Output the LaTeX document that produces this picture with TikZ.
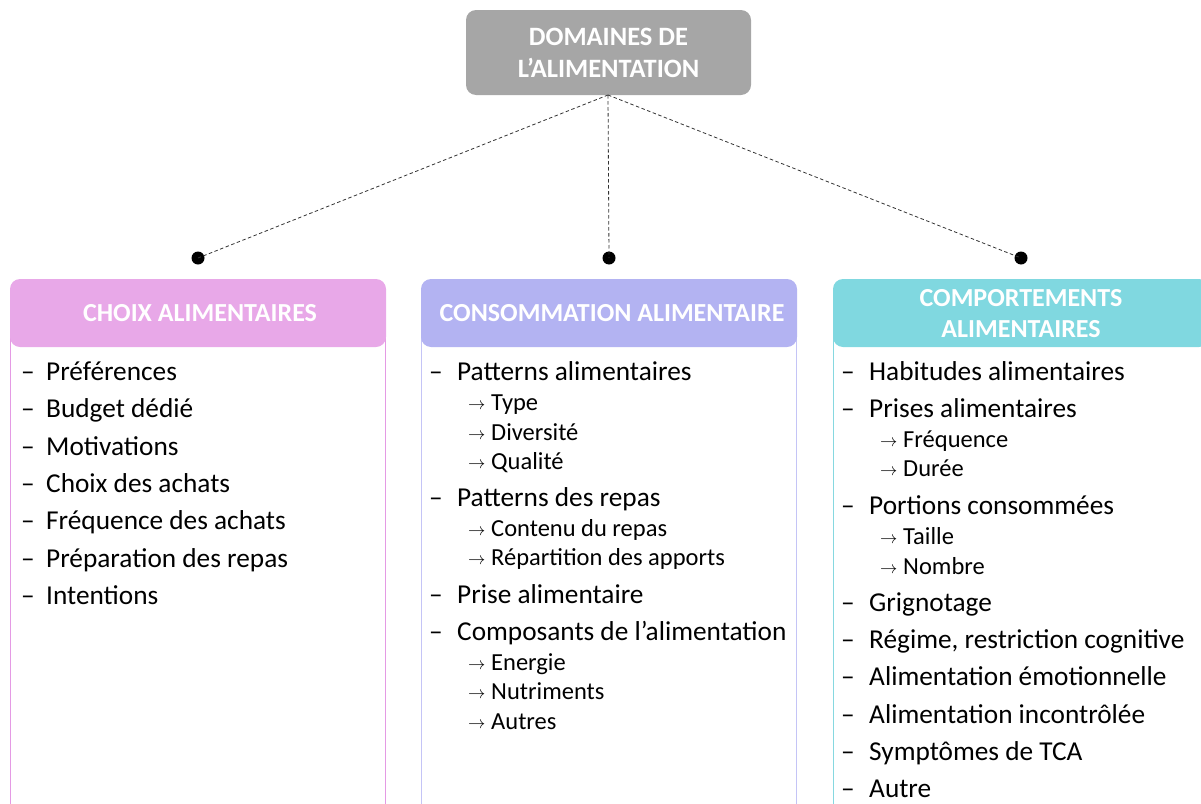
\documentclass[tikz,border=0pt]{standalone}
\usepackage{fontspec}
\setmainfont{Carlito}
\begin{document}
\begin{tikzpicture}[x=1pt,y=-1pt,
  hdrtxt/.style={text=white,font=\fontsize{26}{31}\selectfont\bfseries,align=center},
  toptxtst/.style={text=white,font=\fontsize{26.5}{32}\selectfont\bfseries,align=center},
  mainbox/.style={fill=topgray,rounded corners=10pt,minimum width=285pt,minimum height=85pt,inner sep=0pt},
  hdrbox/.style={rounded corners=10pt,minimum width=376pt,minimum height=68pt,inner sep=0pt},
  itm/.style={anchor=base west,inner sep=0pt,font=\fontsize{27.3}{30}\selectfont,text=black},
  sub/.style={anchor=base west,inner sep=0pt,font=\fontsize{24.5}{28}\selectfont,text=black},
  arr/.style={anchor=base west,inner sep=0pt,font=\fontsize{16}{16}\selectfont},
  conn/.style={dash pattern=on 3.5pt off 2.5pt,line width=0.8pt,black!80},
  dot/.style={circle,fill=black,inner sep=0pt,minimum size=13pt},
  colline/.style={line width=1pt}]
\definecolor{topgray}{HTML}{A6A6A6}
\definecolor{pinkh}{HTML}{E8A8E8}
\definecolor{lavh}{HTML}{B3B3F2}
\definecolor{cyanh}{HTML}{80D8E0}
\definecolor{pinkl}{HTML}{E49AE4}
\definecolor{lavl}{HTML}{C4C4F6}
\definecolor{cyanl}{HTML}{86D8E0}
\useasboundingbox (0,0) rectangle (1201,803);
\clip (0,0) rectangle (1201,803);

% top node
\node[mainbox] (top) at (608.5,52.5) {};
\node[toptxtst] (toptxt) at (608.5,53) {DOMAINES DE\\L’ALIMENTATION};

% dots
\node[dot] (d1) at (198,258) {};
\node[dot] (d2) at (609,258) {};
\node[dot] (d3) at (1021,258) {};
\coordinate (src) at (608,95);
\draw[conn] (src) -- (d1.center);
\draw[conn] (src) -- (d2.center);
\draw[conn] (src) -- (d3.center);

% column bodies
\draw[colline,pinkl] (10,330) -- (10,810);
\draw[colline,pinkl] (385.5,330) -- (385.5,810);
\draw[colline,lavl] (421,330) -- (421,810);
\draw[colline,lavl] (796.5,330) -- (796.5,810);
\draw[colline,cyanl] (833,330) -- (833,810);

% headers
\node[hdrbox,fill=pinkh] (h1) at (198,313) {};
\node[hdrtxt] (h1t) at (200,313) {CHOIX ALIMENTAIRES};
\node[hdrbox,fill=lavh] (h2) at (609,313) {};
\node[hdrtxt] (h2t) at (612,313) {CONSOMMATION ALIMENTAIRE};
\node[hdrbox,fill=cyanh] (h3) at (1021,313) {};
\node[hdrtxt] (h3t) at (1021,314) {COMPORTEMENTS\\ALIMENTAIRES};

% column 1
\foreach \y/\t [count=\i] in {371/{Préférences},408/{Budget dédié},446/{Motivations},483/{Choix des achats},520/{Fréquence des achats},558/{Préparation des repas},595/{Intentions}}{
  \node[itm] (a\i) at (21,\y+9) {–};
  \node[itm] (at\i) at (46,\y+9) {\t};
}

% column 2 main
\foreach \y/\t [count=\i] in {371/{Patterns alimentaires},497/{Patterns des repas},594/{Prise alimentaire},631/{Composants de l’alimentation}}{
  \node[itm] (b\i) at (429,\y+9) {–};
  \node[itm] (bt\i) at (457,\y+9) {\t};
}
% column 2 sub
\foreach \y/\t [count=\i] in {402/{Type},432/{Diversité},461/{Qualité},528/{Contenu du repas},557/{Répartition des apports},662/{Energie},691/{Nutriments},721/{Autres}}{
  \node[arr] (bs\i) at (468,\y+7) {$\rightarrow$};
  \node[sub] (bst\i) at (491,\y+8) {\t};
}

% column 3 main
\foreach \y/\t [count=\i] in {371/{Habitudes alimentaires},408/{Prises alimentaires},505/{Portions consommées},602/{Grignotage},639/{Régime, restriction cognitive},676/{Alimentation émotionnelle},714/{Alimentation incontrôlée},751/{Symptômes de TCA},788/{Autre}}{
  \node[itm] (c\i) at (841,\y+9) {–};
  \node[itm] (ct\i) at (869,\y+9) {\t};
}
% column 3 sub
\foreach \y/\t [count=\i] in {439/{Fréquence},468/{Durée},536/{Taille},566/{Nombre}}{
  \node[arr] (cs\i) at (880,\y+7) {$\rightarrow$};
  \node[sub] (cst\i) at (903,\y+8) {\t};
}
\end{tikzpicture}
\end{document}
